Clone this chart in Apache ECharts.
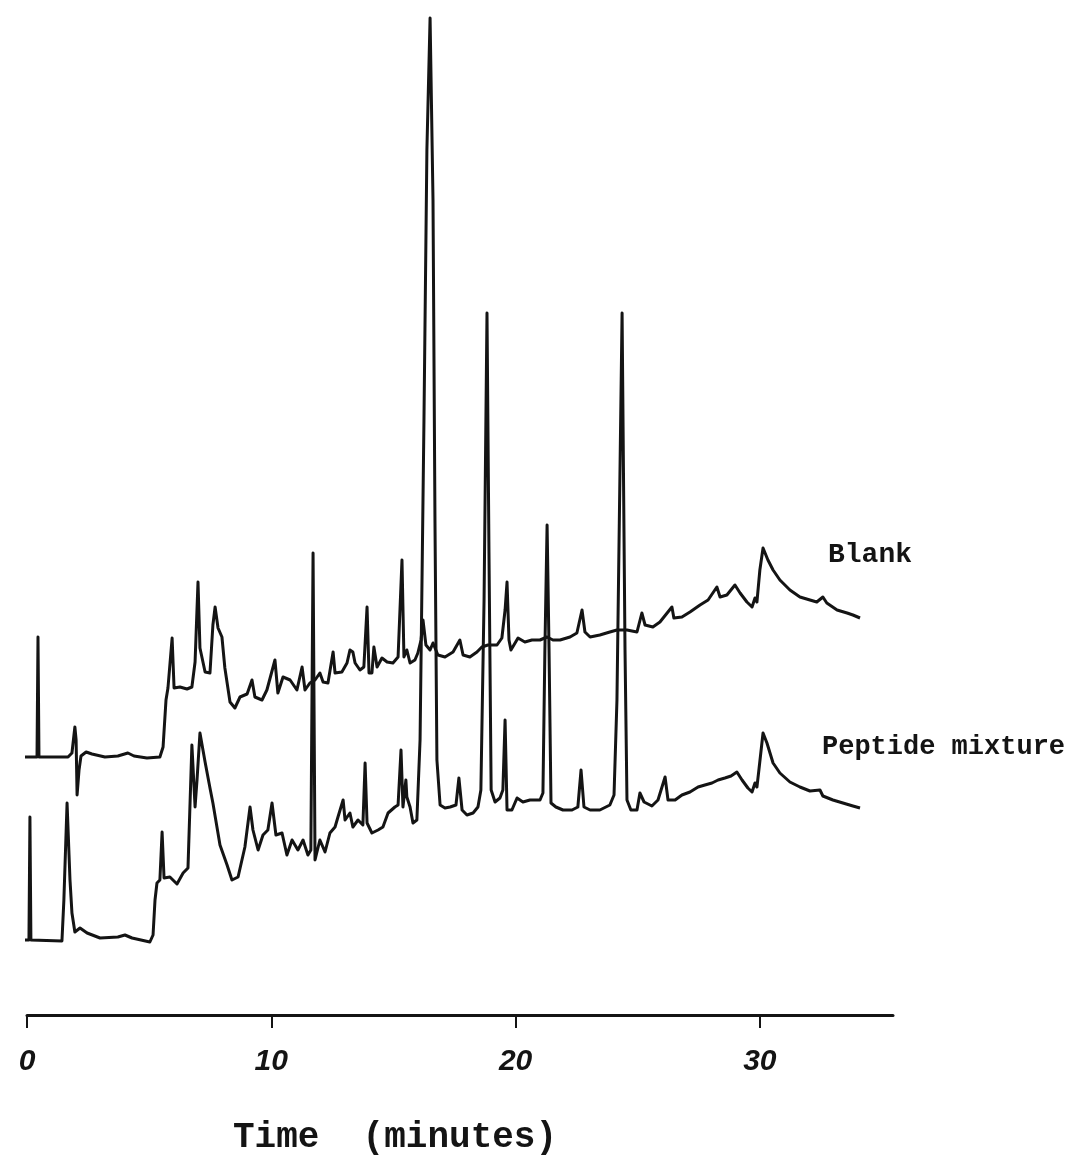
<!DOCTYPE html>
<html>
<head>
<meta charset="utf-8">
<title>Chromatogram: blank and peptide mixture</title>
<script src="https://cdn.jsdelivr.net/npm/echarts@6/dist/echarts.min.js"></script>
<style>
  html, body { margin: 0; padding: 0; background: #ffffff; }
  #chart { width: 1077px; height: 1159px; }
</style>
</head>
<body>
<div id="chart"></div>
<script>
// Retention time (min) and detector signal (arbitrary units) for each run.
const peptideTrace = [
  [-0.49,0],[0.08,0],[0.12,123],[0.16,0],[1.43,-1],[1.51,40],[1.64,137],[1.76,60],[1.84,27],[1.96,8],
  [2.17,12],[2.46,7],[2.99,2],[3.72,3],[4.01,5],[4.30,2],[5.03,-2],[5.16,5],[5.24,40],[5.32,57],
  [5.44,60],[5.53,108],[5.61,62],[5.85,63],[6.14,56],[6.39,67],[6.59,72],[6.75,195],[6.88,133],[6.96,160],
  [7.08,207],[7.29,178],[7.49,152],[7.61,137],[7.90,95],[8.19,75],[8.39,60],[8.64,63],[8.92,93],[9.13,133],
  [9.25,110],[9.46,90],[9.66,105],[9.86,110],[10.03,137],[10.19,105],[10.44,107],[10.64,85],[10.85,100],[11.09,90],
  [11.30,100],[11.50,85],[11.62,90],[11.71,387],[11.79,80],[11.99,100],[12.20,88],[12.40,107],[12.61,113],[12.73,123],
  [12.94,140],[13.02,120],[13.22,127],[13.34,113],[13.55,120],[13.75,115],[13.84,177],[13.92,117],[14.12,107],[14.37,110],
  [14.57,113],[14.78,127],[15.06,133],[15.19,135],[15.31,190],[15.39,133],[15.51,160],[15.55,143],[15.68,133],[15.80,117],
  [15.96,120],[16.09,200],[16.25,520],[16.37,790],[16.50,922],[16.62,740],[16.70,420],[16.78,180],[16.91,135],[17.11,132],
  [17.32,133],[17.56,135],[17.68,162],[17.81,130],[18.01,125],[18.26,127],[18.46,133],[18.58,150],[18.71,340],[18.83,627],
  [18.91,390],[19.00,150],[19.16,138],[19.36,142],[19.48,150],[19.57,220],[19.65,130],[19.85,130],[20.06,142],[20.30,138],
  [20.59,140],[21.00,140],[21.12,147],[21.20,290],[21.29,415],[21.37,290],[21.45,137],[21.65,133],[21.94,130],[22.31,130],
  [22.55,133],[22.68,170],[22.80,133],[23.05,130],[23.45,130],[23.86,135],[24.03,145],[24.15,240],[24.36,627],[24.48,290],
  [24.56,140],[24.72,130],[24.97,130],[25.09,147],[25.26,138],[25.58,134],[25.83,140],[26.12,163],[26.24,140],[26.53,140],
  [26.81,145],[27.14,148],[27.47,153],[27.75,155],[28.04,157],[28.29,160],[28.57,162],[28.82,164],[29.06,168],[29.27,160],
  [29.51,152],[29.68,148],[29.80,157],[29.88,153],[29.96,170],[30.13,207],[30.29,197],[30.54,177],[30.82,167],[31.23,158],
  [31.64,153],[32.05,149],[32.46,150],[32.58,144],[32.99,140],[33.40,137],[33.81,134],[34.10,132]
];

const blankTrace = [
  [-0.49,0],[0.41,0],[0.45,120],[0.49,0],[1.68,0],[1.84,4],[1.96,30],[2.01,17],[2.05,-38],[2.13,-13],
  [2.21,1],[2.42,5],[2.66,3],[3.19,0],[3.72,1],[4.13,4],[4.38,1],[4.91,-1],[5.44,0],[5.57,10],
  [5.69,57],[5.77,69],[5.94,119],[6.02,69],[6.26,70],[6.55,68],[6.75,70],[6.88,95],[7.00,175],[7.08,109],
  [7.29,85],[7.49,84],[7.61,132],[7.70,150],[7.82,129],[7.98,120],[8.10,89],[8.31,55],[8.51,49],[8.72,60],
  [9.01,63],[9.21,77],[9.33,60],[9.62,57],[9.82,67],[10.15,97],[10.27,64],[10.48,80],[10.77,77],[11.05,67],
  [11.26,90],[11.38,67],[11.58,74],[11.79,77],[11.99,84],[12.12,75],[12.32,74],[12.53,105],[12.61,84],[12.89,85],
  [13.10,94],[13.22,107],[13.34,105],[13.43,94],[13.63,87],[13.79,90],[13.92,150],[14.00,84],[14.12,84],[14.20,110],
  [14.33,90],[14.53,99],[14.74,95],[14.98,94],[15.19,100],[15.35,197],[15.43,100],[15.55,107],[15.68,94],[15.88,97],
  [16.00,104],[16.13,117],[16.21,137],[16.33,112],[16.50,107],[16.62,114],[16.82,102],[17.11,100],[17.44,105],[17.72,117],
  [17.85,102],[18.13,100],[18.42,105],[18.62,110],[18.87,112],[19.24,112],[19.44,119],[19.57,147],[19.65,175],[19.73,117],
  [19.81,107],[19.98,114],[20.10,119],[20.38,115],[20.67,117],[21.00,117],[21.29,120],[21.53,117],[21.82,117],[22.23,120],
  [22.51,124],[22.72,147],[22.84,125],[23.05,120],[23.45,122],[23.86,125],[24.15,127],[24.56,127],[24.97,125],[25.17,144],
  [25.30,132],[25.62,130],[25.91,135],[26.40,150],[26.48,139],[26.81,140],[27.14,145],[27.55,152],[27.88,157],[28.24,170],
  [28.37,160],[28.65,162],[28.98,172],[29.19,164],[29.47,155],[29.68,150],[29.80,159],[29.88,155],[30.00,187],[30.13,209],
  [30.33,197],[30.54,187],[30.82,177],[31.23,167],[31.64,160],[32.05,157],[32.33,155],[32.58,160],[32.74,154],[33.16,147],
  [33.57,144],[33.81,142],[34.10,139]
];

// Vertical pen offset of the blank run above the sample run.
const BLANK_OFFSET = 183;

const timeTicks = [0, 10, 20, 30];
const traceNames = ['Blank', 'Peptide mixture'];
const axisTitle = 'Time  (minutes)';

const INK = '#141414';
const typewriter = '"Liberation Mono", "DejaVu Sans Mono", monospace';

const chart = echarts.init(document.getElementById('chart'), null, { renderer: 'canvas' });

chart.setOption({
  animation: false,
  backgroundColor: '#ffffff',
  grid: { left: 27, right: 184, top: 15, bottom: 144 },
  xAxis: {
    type: 'value',
    min: 0,
    max: 35.45,
    interval: 10,
    splitLine: { show: false },
    axisLine: { show: true, onZero: false, lineStyle: { color: INK, width: 3 } },
    axisTick: {
      show: true,
      length: 13,
      lineStyle: { color: INK, width: 2 },
      customValues: timeTicks
    },
    axisLabel: {
      customValues: timeTicks,
      margin: 32,
      color: INK,
      fontSize: 30,
      fontStyle: 'italic',
      fontWeight: 'bold',
      fontFamily: '"Liberation Sans", Arial, sans-serif'
    }
  },
  yAxis: {
    type: 'value',
    min: -75,
    max: 925,
    show: false,
    splitLine: { show: false }
  },
  series: [
    {
      name: traceNames[0],
      type: 'line',
      clip: false,
      showSymbol: false,
      symbol: 'none',
      lineStyle: { color: INK, width: 3, join: 'round' },
      data: blankTrace.map(([t, v]) => [t, v + BLANK_OFFSET])
    },
    {
      name: traceNames[1],
      type: 'line',
      clip: false,
      showSymbol: false,
      symbol: 'none',
      lineStyle: { color: INK, width: 3, join: 'round' },
      data: peptideTrace
    }
  ],
  graphic: [
    {
      type: 'text',
      left: 828, top: 541,
      style: { text: traceNames[0], font: 'bold 28px ' + typewriter, fill: INK }
    },
    {
      type: 'text',
      left: 822, top: 734,
      style: { text: traceNames[1], font: 'bold 27px ' + typewriter, fill: INK }
    },
    {
      type: 'text',
      left: 233, top: 1120,
      style: { text: axisTitle, font: 'bold 36px ' + typewriter, fill: INK }
    }
  ]
});
</script>
</body>
</html>
